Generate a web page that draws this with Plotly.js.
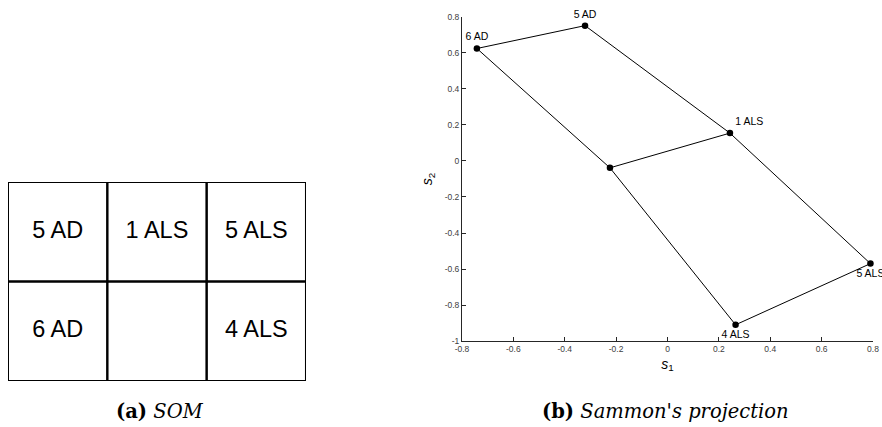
<!DOCTYPE html>
<html>
<head>
<meta charset="utf-8">
<script src="https://cdn.plot.ly/plotly-3.0.1.min.js"></script>
<style>html,body{margin:0;padding:0;background:#fff;}#chart{width:882px;height:427px;}</style>
</head>
<body>
<div id="chart"></div>
<script>
// SOM grid (2 rows x 3 columns), top row first
const somRow1 = ["5 AD", "1 ALS", "5 ALS"];
const somRow2 = ["6 AD", "", "4 ALS"];

// Sammon's projection nodes
const nodeNames = ["6 AD", "5 AD", "1 ALS", "", "5 ALS", "4 ALS"];
const s1 = [-0.742, -0.321, 0.243, -0.224, 0.790, 0.265];
const s2 = [0.625, 0.752, 0.155, -0.038, -0.570, -0.910];
const labelPos = ["top center", "top center", "top right", "top center", "bottom center", "bottom center"];
// edges between grid neighbours (indices into node arrays)
const edges = [[0,1],[1,2],[2,4],[4,5],[5,3],[3,0],[3,2]];

const xTicks = [-0.8, -0.6, -0.4, -0.2, 0, 0.2, 0.4, 0.6, 0.8];
const xTickText = ["-0.8", "-0.6", "-0.4", "-0.2", "0", "0.2", "0.4", "0.6", "0.8"];
const yTicks = [-1, -0.8, -0.6, -0.4, -0.2, 0, 0.2, 0.4, 0.6, 0.8];
const yTickText = ["-1", "-0.8", "-0.6", "-0.4", "-0.2", "0", "0.2", "0.4", "0.6", "0.8"];

const traces = [];
// edge lines
const ex = [], ey = [];
edges.forEach(e => { ex.push(s1[e[0]], s1[e[1]], null); ey.push(s2[e[0]], s2[e[1]], null); });
traces.push({x: ex, y: ey, mode: "lines", type: "scatter", line: {color: "#000", width: 1}, hoverinfo: "skip", xaxis: "x", yaxis: "y", cliponaxis: false});
traces.push({x: s1, y: s2, mode: "markers", type: "scatter",
  marker: {color: "#000", size: 6.5}, xaxis: "x", yaxis: "y", cliponaxis: false});
// node labels (only for labelled nodes); invisible markers keep the text offset
const lx = [], ly = [], lt = [], lp = [];
nodeNames.forEach((n, i) => { if (n) { lx.push(s1[i]); ly.push(s2[i]); lt.push(n); lp.push(labelPos[i]); } });
traces.push({x: lx, y: ly, mode: "markers+text", type: "scatter", text: lt, textposition: lp,
  marker: {color: "#000", size: 7, opacity: 0},
  textfont: {family: "Liberation Sans, Arial, sans-serif", size: 10.5, color: "#000"},
  xaxis: "x", yaxis: "y", cliponaxis: false, hoverinfo: "skip"});

// SOM grid cells
const rows = [somRow1, somRow2];
const shapes = [];
const cx = [], cy = [], ct = [];
rows.forEach((row, r) => {
  row.forEach((lab, c) => {
    const y0 = 1 - r;
    shapes.push({type: "rect", xref: "x2", yref: "y2", x0: c, x1: c + 1, y0: y0, y1: y0 + 1, line: {color: "#000", width: 2}});
    if (lab) { cx.push(c + 0.5); cy.push(y0 + 0.5); ct.push(lab); }
  });
});
traces.push({x: cx, y: cy, mode: "text", type: "scatter", text: ct, textposition: "middle center",
  textfont: {family: "Liberation Sans, Arial, sans-serif", size: 23.5, color: "#000"}, xaxis: "x2", yaxis: "y2", hoverinfo: "skip"});

const tickFont = {family: "Liberation Sans, Arial, sans-serif", size: 8.5, color: "#404040"};
const titleFont = {family: "Liberation Sans, Arial, sans-serif", size: 14, color: "#000"};
const capFont = {family: "DejaVu Serif, serif", size: 19.5, color: "#000"};
const layout = {
  width: 882, height: 427, showlegend: false,
  margin: {l: 0, r: 0, t: 0, b: 0},
  paper_bgcolor: "#fff", plot_bgcolor: "#fff",
  xaxis: {domain: [0.5238, 0.9898], range: [-0.8, 0.8], tickvals: xTicks, ticktext: xTickText, ticks: "inside", ticklen: 4,
    tickcolor: "#262626", showline: true, linecolor: "#262626", linewidth: 1, showgrid: false, zeroline: false, tickfont: tickFont,
    anchor: "y", title: {text: "<i>s</i><sub>1</sub>", font: titleFont, standoff: 5}},
  yaxis: {domain: [0.2014, 0.9602], range: [-1, 0.8], tickvals: yTicks, ticktext: yTickText, ticks: "inside", ticklen: 4,
    tickcolor: "#262626", showline: true, linecolor: "#262626", linewidth: 1, showgrid: false, zeroline: false, tickfont: tickFont,
    anchor: "x", title: {text: "<i>s</i><sub>2</sub>", font: titleFont, standoff: 8}},
  xaxis2: {domain: [0.00907, 0.3469], range: [0, 3], visible: false, anchor: "y2", fixedrange: true},
  yaxis2: {domain: [0.1077, 0.5738], range: [0, 2], visible: false, anchor: "x2", fixedrange: true},
  shapes: shapes,
  annotations: [
    {xref: "paper", yref: "paper", x: 160/882, y: 1 - 411/427, text: "<b>(a)</b> <i>SOM</i>", showarrow: false, xanchor: "center", yanchor: "middle", font: capFont},
    {xref: "paper", yref: "paper", x: 665/882, y: 1 - 411/427, text: "<b>(b)</b> <i>Sammon's projection</i>", showarrow: false, xanchor: "center", yanchor: "middle", font: capFont}
  ]
};
Plotly.newPlot("chart", traces, layout, {displayModeBar: false, staticPlot: true});
</script>
</body>
</html>
